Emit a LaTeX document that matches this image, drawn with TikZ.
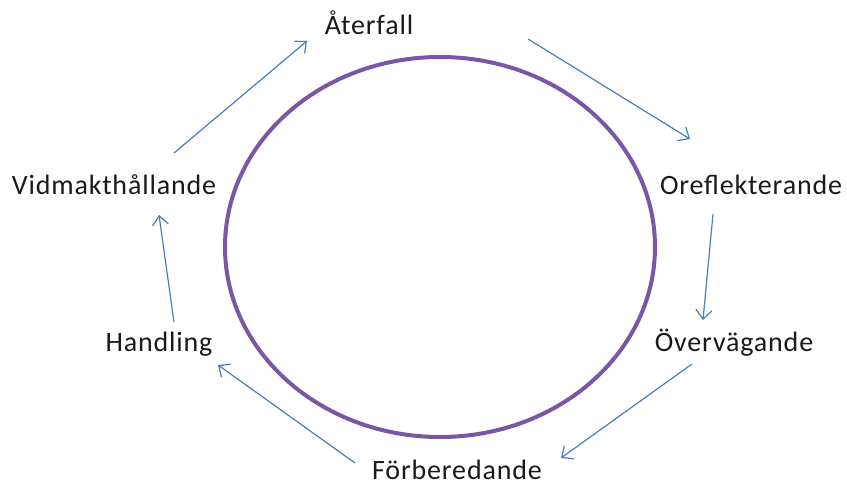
\documentclass[tikz,border=0pt]{standalone}
\usepackage{fontspec}
\setmainfont{Carlito}[LetterSpace=3]
\usetikzlibrary{arrows.meta}
\definecolor{ringpurple}{HTML}{7A57A6}
\definecolor{arrowblue}{HTML}{4A7EBB}
\definecolor{txt}{HTML}{1A1A1A}
\tikzset{
  stage/.style={anchor=base, inner sep=0pt, text=txt, font=\fontsize{28pt}{32pt}\selectfont},
  flow/.style={draw=arrowblue, line width=1.2pt, -{Straight Barb[length=9pt,width=16pt,line width=1.2pt]}},
}
\begin{document}
\begin{tikzpicture}[x=1pt,y=-1pt]
\useasboundingbox (0,0) rectangle (847,486);
\draw[ringpurple, line width=4pt] (440,247) ellipse [x radius=215pt, y radius=190pt];

\node[stage] (aterfall) at (369,35) {Återfall};
\node[stage] (orefl) at (751,195) {Oreflekterande};
\node[stage] (overv) at (734,352) {Övervägande};
\node[stage] (forb) at (457,480) {Förberedande};
\node[stage] (handl) at (159,352) {Handling};
\node[stage] (vidm) at (114,195) {Vidmakthållande};

\coordinate (a1s) at (528,39);  \coordinate (a1e) at (690,139);
\coordinate (a2s) at (713,214); \coordinate (a2e) at (703,320);
\coordinate (a3s) at (692,364); \coordinate (a3e) at (561,458);
\coordinate (a4s) at (355,463); \coordinate (a4e) at (218,365);
\coordinate (a5s) at (174,322); \coordinate (a5e) at (159,215);
\coordinate (a6s) at (174,153); \coordinate (a6e) at (307,41);

\draw[flow] (a1s) -- (a1e);
\draw[flow] (a2s) -- (a2e);
\draw[flow] (a3s) -- (a3e);
\draw[flow] (a4s) -- (a4e);
\draw[flow] (a5s) -- (a5e);
\draw[flow] (a6s) -- (a6e);
\end{tikzpicture}
\end{document}
